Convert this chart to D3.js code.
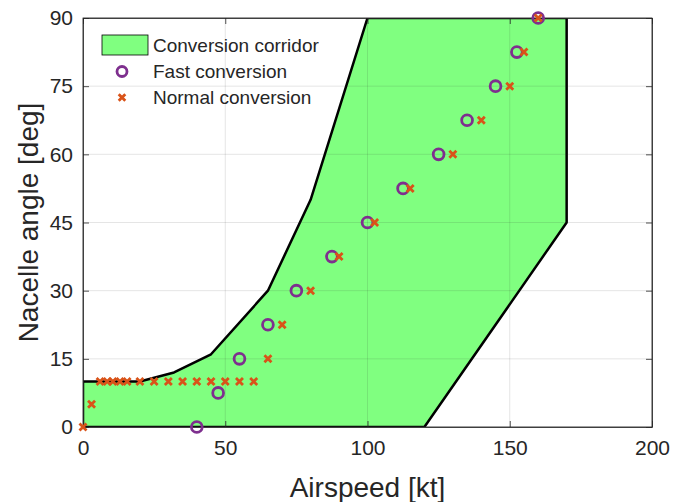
<!DOCTYPE html>
<html>
<head>
<meta charset="utf-8">
<script src="https://cdn.jsdelivr.net/npm/d3@7"></script>
<style>
  body { margin: 0; background: #fff; }
  text { font-family: "Liberation Sans", Arial, sans-serif; fill: #262626; }
</style>
</head>
<body>
<div id="chart"></div>
<script>
// corridor outline [airspeed kt, nacelle deg]
const corridorSpeed = [0, 20, 32, 45, 65, 80, 100, 170, 170, 120, 0];
const corridorAngle = [10, 10, 12, 16, 30, 50, 90, 90, 45, 0, 0];

// fast conversion schedule
const fastSpeed = [40, 47.5, 55, 65, 75, 87.5, 100, 112.5, 125, 135, 145, 152.5, 160];
const fastAngle = [0, 7.5, 15, 22.5, 30, 37.5, 45, 52.5, 60, 67.5, 75, 82.5, 90];

// normal conversion schedule
const normalSpeed = [0, 3, 6, 8.5, 10.5, 13, 15.5, 20, 25, 30, 35, 40, 45, 50, 55, 60, 65, 70, 80, 90, 102.5, 115, 130, 140, 150, 155, 160];
const normalAngle = [0, 5, 10, 10, 10, 10, 10, 10, 10, 10, 10, 10, 10, 10, 10, 10, 15, 22.5, 30, 37.5, 45, 52.5, 60, 67.5, 75, 82.5, 90];

const xTicks = [0, 50, 100, 150, 200];
const yTicks = [0, 15, 30, 45, 60, 75, 90];
const legendLabels = ["Conversion corridor", "Fast conversion", "Normal conversion"];

const width = 692, height = 502;
const margin = {left: 83, right: 40, top: 18, bottom: 75};
const pw = width - margin.left - margin.right;
const ph = height - margin.top - margin.bottom;

const green = "#80ff80", purple = "#7e2f8e", orange = "#d95319";

const svg = d3.select("#chart").append("svg")
    .attr("width", width)
    .attr("height", height);

const x = d3.scaleLinear().domain([0, 200]).range([0, pw]);
const y = d3.scaleLinear().domain([0, 90]).range([ph, 0]);

svg.append("defs").append("clipPath")
    .attr("id", "clip")
    .append("rect")
    .attr("width", pw)
    .attr("height", ph);

const g = svg.append("g")
    .attr("transform", `translate(${margin.left},${margin.top})`);

// corridor patch
const corridor = corridorSpeed.map((s, i) => [s, corridorAngle[i]]);
g.append("path")
    .attr("clip-path", "url(#clip)")
    .attr("d", d3.line().x(d => x(d[0])).y(d => y(d[1]))(corridor) + "Z")
    .attr("fill", green)
    .attr("stroke", "#000")
    .attr("stroke-width", 2.5)
    .attr("stroke-linejoin", "round");

// grid
g.append("g").selectAll("line")
    .data(xTicks)
    .join("line")
    .attr("x1", d => x(d)).attr("x2", d => x(d))
    .attr("y1", 0).attr("y2", ph)
    .attr("stroke", "#262626").attr("stroke-opacity", 0.12);
g.append("g").selectAll("line")
    .data(yTicks)
    .join("line")
    .attr("x1", 0).attr("x2", pw)
    .attr("y1", d => y(d)).attr("y2", d => y(d))
    .attr("stroke", "#262626").attr("stroke-opacity", 0.12);

// axes (ticks inside, box on)
const tickLen = 6;
const xAxis = g.append("g")
    .attr("transform", `translate(0,${ph})`)
    .call(d3.axisBottom(x).tickValues(xTicks).tickSizeInner(-tickLen).tickSizeOuter(0).tickPadding(13));
const yAxis = g.append("g")
    .call(d3.axisLeft(y).tickValues(yTicks).tickSizeInner(-tickLen).tickSizeOuter(0).tickPadding(14));
g.append("g")
    .call(d3.axisTop(x).tickValues(xTicks).tickSizeInner(-tickLen).tickSizeOuter(0).tickFormat(""));
g.append("g")
    .attr("transform", `translate(${pw},0)`)
    .call(d3.axisRight(y).tickValues(yTicks).tickSizeInner(-tickLen).tickSizeOuter(0).tickFormat(""));
g.selectAll(".domain, .tick line").attr("stroke", "#262626").attr("stroke-width", 0.8);
xAxis.selectAll("text").attr("font-size", 21).attr("fill", "#262626");
yAxis.selectAll("text").attr("font-size", 21).attr("fill", "#262626").attr("dx", 4);
g.append("rect")
    .attr("width", pw).attr("height", ph)
    .attr("fill", "none").attr("stroke", "#262626").attr("stroke-width", 0.8);

// axis labels
svg.append("text")
    .attr("x", margin.left + pw / 2)
    .attr("y", 497)
    .attr("text-anchor", "middle")
    .attr("font-size", 28)
    .text("Airspeed [kt]");
svg.append("text")
    .attr("transform", `translate(38,${margin.top + ph / 2}) rotate(-90)`)
    .attr("text-anchor", "middle")
    .attr("font-size", 28)
    .text("Nacelle angle [deg]");

// markers
const xMark = s => `M${-s},${-s}L${s},${s}M${-s},${s}L${s},${-s}`;

g.append("g").selectAll("circle")
    .data(fastSpeed.map((s, i) => [s, fastAngle[i]]))
    .join("circle")
    .attr("cx", d => x(d[0]))
    .attr("cy", d => y(d[1]))
    .attr("r", 5.4)
    .attr("fill", "none")
    .attr("stroke", purple)
    .attr("stroke-width", 2.8);

g.append("g").selectAll("path")
    .data(normalSpeed.map((s, i) => [s, normalAngle[i]]))
    .join("path")
    .attr("transform", d => `translate(${x(d[0])},${y(d[1])})`)
    .attr("d", xMark(3.5))
    .attr("stroke", orange)
    .attr("stroke-width", 2.8);

// legend (no box)
const lg = svg.append("g");
lg.append("rect")
    .attr("x", 102).attr("y", 35)
    .attr("width", 46).attr("height", 20)
    .attr("fill", green).attr("stroke", "#000").attr("stroke-width", 0.8);
lg.append("circle")
    .attr("cx", 122).attr("cy", 71.5).attr("r", 5)
    .attr("fill", "none").attr("stroke", purple).attr("stroke-width", 2.8);
lg.append("path")
    .attr("transform", "translate(122,97.5)")
    .attr("d", xMark(3.3))
    .attr("stroke", orange).attr("stroke-width", 2.8);
lg.selectAll("text")
    .data(legendLabels)
    .join("text")
    .attr("x", 153)
    .attr("y", (d, i) => 52 + i * 26)
    .attr("font-size", 19)
    .text(d => d);
</script>
</body>
</html>
